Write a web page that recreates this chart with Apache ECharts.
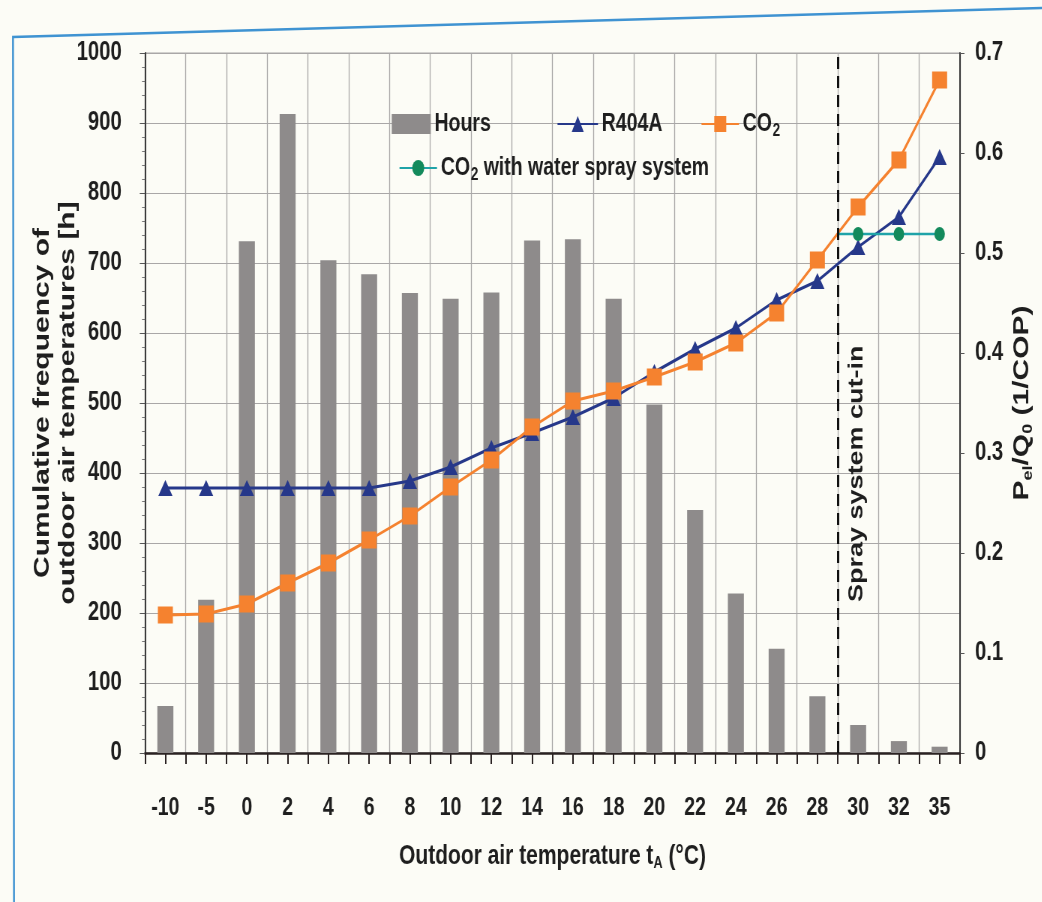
<!DOCTYPE html>
<html>
<head>
<meta charset="utf-8">
<script src="https://cdn.jsdelivr.net/npm/echarts@6/dist/echarts.min.js"></script>
<style>
  html, body { margin: 0; padding: 0; background: #fcfcf6; overflow: hidden; width: 1042px; height: 902px; }
  /* the figure uses a condensed face; the canvas is laid out wider and squeezed horizontally */
  #chart { height: 902px; transform-origin: 0 0; }
</style>
</head>
<body>
<div id="chart"></div>
<script>
// Outdoor temperature bins (°C)
const temperatures = ['-10', '-5', '0', '2', '4', '6', '8', '10', '12', '14', '16', '18', '20', '22', '24', '26', '28', '30', '32', '35'];
// Hours per temperature bin [h]
const hours = [67, 219, 731, 913, 704, 684, 657, 649, 658, 732, 734, 649, 498, 347, 228, 149, 81, 40, 17, 9];
// Pel/Q0 (1/COP) for each refrigerant
const r404a = [0.265, 0.265, 0.265, 0.265, 0.265, 0.265, 0.272, 0.286, 0.305, 0.320, 0.336, 0.355, 0.381, 0.404, 0.425, 0.453, 0.472, 0.506, 0.536, 0.596];
const co2 = [0.138, 0.139, 0.149, 0.170, 0.190, 0.213, 0.237, 0.266, 0.293, 0.326, 0.352, 0.362, 0.376, 0.391, 0.410, 0.440, 0.493, 0.546, 0.593, 0.673];
// CO2 with water spray: cut-in at the bin boundary between 28 and 30 °C (position in bin index units)
const sprayCutIn = 16.5;
const sprayPositions = [16.5, 17, 18, 19];
const sprayValues = [0.519, 0.519, 0.519, 0.519];
// Axis ranges / tick steps
const leftTicks = { min: 0, max: 1000, step: 100 };
const rightTicks = { min: 0, max: 0.7, step: 0.1 };

// horizontal squeeze of the whole figure (condensed lettering)
const SX = 0.75;
const W = 1042 / SX;
const X = v => v / SX;   // page x -> layout x

const el = document.getElementById('chart');
el.style.width = W + 'px';
el.style.transform = 'scaleX(' + SX + ')';

const FONT = "'Liberation Sans', Arial, sans-serif";
const INK = '#1e1e1e';
const GRIDC = '#a9a7a7';

const chart = echarts.init(el, null, { renderer: 'canvas', width: W, height: 902 });

const sprayData = sprayPositions.map((x, i) => (
  i === 0 ? { value: [x, sprayValues[i]], symbol: 'none' } : { value: [x, sprayValues[i]] }
));

const legendText = {
  fontFamily: FONT, fontWeight: 'bold', fontSize: 26, color: INK,
  rich: {
    b: { fontFamily: FONT, fontWeight: 'bold', fontSize: 26, color: INK },
    s: { fontFamily: FONT, fontWeight: 'bold', fontSize: 18, color: INK, padding: [14, 0, 0, 1] }
  }
};
function legendFmt(name) {
  if (name === 'CO2') return '{b|CO}{s|2}';
  if (name === 'CO2 with water spray system') return '{b|CO}{s|2}{b| with water spray system}';
  return name;
}
function legend(name, left, top, w, h, icon) {
  const l = {
    data: [name], left: X(left), top: top, itemWidth: w, itemHeight: h,
    itemGap: 0, selectedMode: false, textStyle: legendText, formatter: legendFmt
  };
  if (icon) l.icon = icon;
  return l;
}

const option = {
  backgroundColor: '#fcfcf6',
  animation: false,
  legend: [
    legend('Hours', 388, 106, 52, 20, 'rect'),
    legend('R404A', 553, 106, 54, 20),
    legend('CO2', 697, 106, 50, 20),
    legend('CO2 with water spray system', 395, 150, 50, 20)
  ],
  grid: {
    left: X(145), right: W - X(960), top: 53, bottom: 149,
    show: true, borderColor: GRIDC, borderWidth: 1, backgroundColor: 'transparent'
  },
  xAxis: [
    {
      type: 'category', data: temperatures, boundaryGap: true, position: 'bottom',
      axisLine: { lineStyle: { color: '#2a2222', width: 2.5 } },
      axisTick: { show: false },
      axisLabel: { fontFamily: FONT, fontWeight: 'bold', fontSize: 26, color: INK, margin: 42, interval: 0 },
      splitLine: { show: true, interval: 0, lineStyle: { color: GRIDC, width: 1.3 } },
      name: '{b|Outdoor air temperature t}{s|A}{b| (°C)}',
      nameLocation: 'middle', nameGap: 88, nameMoveOverlap: false,
      nameTextStyle: {
        rich: {
          b: { fontFamily: FONT, fontWeight: 'bold', fontSize: 28, color: INK },
          s: { fontFamily: FONT, fontWeight: 'bold', fontSize: 17, color: INK, padding: [14, 0, 0, 0] }
        }
      }
    },
    {
      // half-bin tick marks along the bottom axis, also hosts the spray segment
      type: 'value', min: -0.5, max: 19.5, interval: 0.5, position: 'bottom',
      axisLine: { show: false },
      axisTick: { show: true, length: 11, lineStyle: { color: '#2a2222', width: 2 } },
      axisLabel: { show: false },
      splitLine: { show: false }
    }
  ],
  yAxis: [
    {
      type: 'value', position: 'left',
      min: leftTicks.min, max: leftTicks.max, interval: leftTicks.step,
      axisLine: { show: true, onZero: false, lineStyle: { color: '#3a3a3a', width: 2 } },
      axisTick: { show: true, length: 7, lineStyle: { color: '#555' } },
      minorTick: { show: true, splitNumber: 5, length: 4, lineStyle: { color: '#777' } },
      axisLabel: {
        fontFamily: FONT, fontWeight: 'bold', fontSize: 27, color: INK, margin: 31,
        formatter: v => String(v)
      },
      splitLine: { show: true, lineStyle: { color: GRIDC, width: 1 } },
      name: 'Cumulative frequency of\noutdoor air temperatures [h]',
      nameLocation: 'middle', nameGap: 86, nameMoveOverlap: false,
      nameTextStyle: { fontFamily: FONT, fontWeight: 'bold', fontSize: 30, color: INK, lineHeight: 34 }
    },
    {
      type: 'value', position: 'right',
      min: rightTicks.min, max: rightTicks.max, interval: rightTicks.step,
      axisLine: { show: true, onZero: false, lineStyle: { color: '#3a3a3a', width: 2 } },
      axisTick: { show: true, length: 6, lineStyle: { color: '#555' } },
      axisLabel: {
        fontFamily: FONT, fontWeight: 'bold', fontSize: 27, color: INK, margin: 20,
        formatter: v => (v === 0 ? '0' : v.toFixed(1))
      },
      splitLine: { show: false },
      name: '{b|P}{s|el}{b|/Q}{s|0}{b| (1/COP)}',
      nameLocation: 'middle', nameGap: 66, nameRotate: 90, nameMoveOverlap: false,
      nameTextStyle: {
        rich: {
          b: { fontFamily: FONT, fontWeight: 'bold', fontSize: 30, color: INK },
          s: { fontFamily: FONT, fontWeight: 'bold', fontSize: 18, color: INK, padding: [16, 0, 0, 0] }
        }
      }
    }
  ],
  series: [
    {
      name: 'Hours', type: 'bar', xAxisIndex: 0, yAxisIndex: 0,
      data: hours, barWidth: X(16),
      itemStyle: { color: '#8e8b8b' }
    },
    {
      name: 'R404A', type: 'line', xAxisIndex: 0, yAxisIndex: 1,
      data: r404a, symbol: 'triangle', symbolSize: [19, 16],
      lineStyle: { color: '#26388a', width: 3 },
      itemStyle: { color: '#26388a' }
    },
    {
      name: 'CO2', type: 'line', xAxisIndex: 0, yAxisIndex: 1,
      data: co2, symbol: 'rect', symbolSize: [20, 17],
      lineStyle: { color: '#f5822f', width: 3 },
      itemStyle: { color: '#f5822f' }
    },
    {
      name: 'CO2 with water spray system', type: 'line', xAxisIndex: 1, yAxisIndex: 1,
      data: sprayData, symbol: 'circle', symbolSize: [14, 14],
      lineStyle: { color: '#1fa3a8', width: 2.5 },
      itemStyle: { color: '#138a5c' },
      markLine: {
        silent: true, symbol: 'none',
        lineStyle: { color: '#111', width: 3, type: [12, 7] },
        label: { show: false },
        data: [[{ coord: [sprayCutIn, rightTicks.min] }, { coord: [sprayCutIn, rightTicks.max] }]]
      }
    }
  ]
};

chart.setOption(option);

// Vertical annotation beside the cut-in line, plus the scan frame edges
const base = chart.convertToPixel({ xAxisIndex: 1, yAxisIndex: 1 }, [sprayCutIn, rightTicks.min]);
chart.setOption({
  graphic: [
    {
      type: 'text', x: base[0] + X(19), y: base[1] - 151, rotation: Math.PI / 2,
      style: {
        text: 'Spray system cut-in',
        font: "bold 27px 'Liberation Sans', Arial, sans-serif",
        fill: INK, align: 'left', verticalAlign: 'middle'
      }
    },
    {
      type: 'polyline', silent: true,
      shape: { points: [[X(14), 902], [X(13), 37], [W, 8]] },
      style: { stroke: '#3f93d2', lineWidth: 2.5, fill: null }
    }
  ]
});
</script>
</body>
</html>
